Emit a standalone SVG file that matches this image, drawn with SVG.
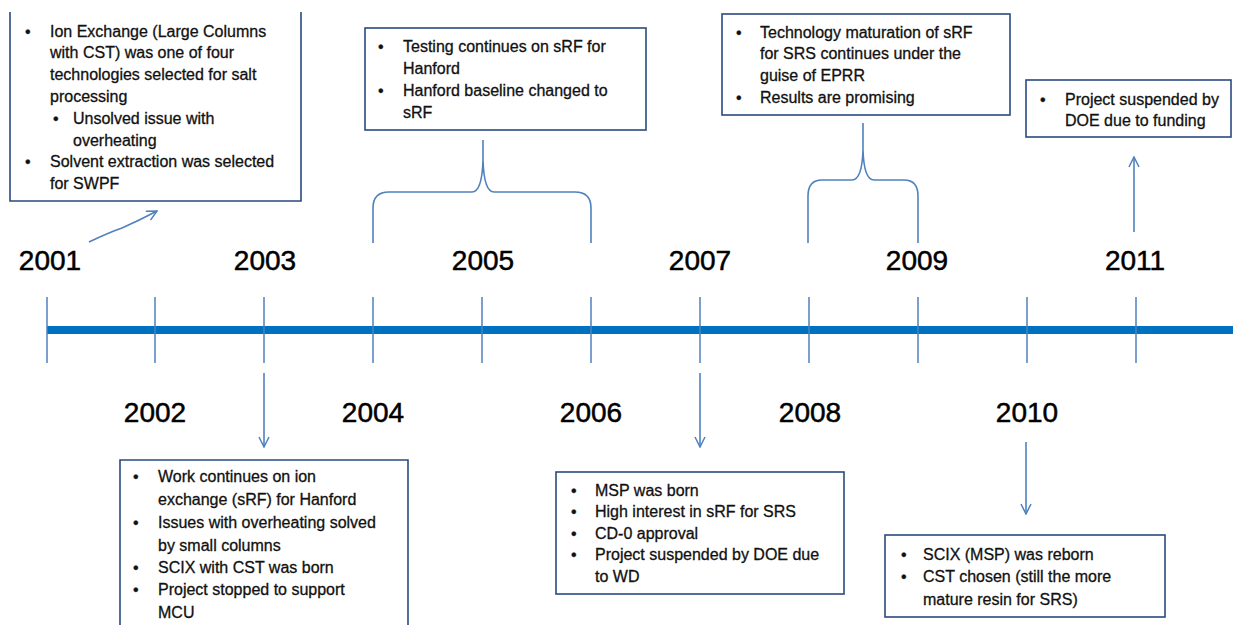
<svg xmlns="http://www.w3.org/2000/svg" width="1233" height="625" viewBox="0 0 1233 625">
<defs>
<marker id="ah" viewBox="0 0 12 12" refX="11" refY="6" markerWidth="12" markerHeight="12" markerUnits="userSpaceOnUse" orient="auto">
<path d="M1,1 L11,6 L1,11" fill="none" stroke="#4F81BD" stroke-width="1.5"/>
</marker>
</defs>
<style>
.box{fill:#fff;stroke:#2A4A80;stroke-width:1.6}
.t{font-family:"Liberation Sans",Arial,sans-serif;font-size:16px;fill:#111;stroke:#111;stroke-width:0.3}
.yr{font-family:"Liberation Sans",Arial,sans-serif;font-size:28px;fill:#000;stroke:#000;stroke-width:0.5;text-anchor:middle}
.tick{stroke:#4F81BD;stroke-width:1.5}
.con{fill:none;stroke:#4F81BD;stroke-width:1.6}
</style>
<rect width="1233" height="625" fill="#fff"/>

<g id="timeline">
<line x1="47" y1="330" x2="1233" y2="330" stroke="#0070C0" stroke-width="8"/>
<line class="tick" x1="47" y1="297" x2="47" y2="363"/>
<line class="tick" x1="155" y1="297" x2="155" y2="363"/>
<line class="tick" x1="264" y1="297" x2="264" y2="363"/>
<line class="tick" x1="373" y1="297" x2="373" y2="363"/>
<line class="tick" x1="482" y1="297" x2="482" y2="363"/>
<line class="tick" x1="591" y1="297" x2="591" y2="363"/>
<line class="tick" x1="700" y1="297" x2="700" y2="363"/>
<line class="tick" x1="809" y1="297" x2="809" y2="363"/>
<line class="tick" x1="918" y1="297" x2="918" y2="363"/>
<line class="tick" x1="1027" y1="297" x2="1027" y2="363"/>
<line class="tick" x1="1136" y1="297" x2="1136" y2="363"/>
</g>

<g id="years">
<text class="yr" x="50" y="270">2001</text>
<text class="yr" x="265" y="270">2003</text>
<text class="yr" x="483" y="270">2005</text>
<text class="yr" x="700" y="270">2007</text>
<text class="yr" x="917" y="270">2009</text>
<text class="yr" x="1135" y="270">2011</text>
<text class="yr" x="155" y="422">2002</text>
<text class="yr" x="373" y="422">2004</text>
<text class="yr" x="591" y="422">2006</text>
<text class="yr" x="810" y="422">2008</text>
<text class="yr" x="1027" y="422">2010</text>
</g>

<g id="connectors">
<path class="con" d="M89,242 Q110,232 122,228 Q140,220 157,211" marker-end="url(#ah)"/>
<path class="con" d="M373,243 V208 Q373,192 389,192 H472 Q482,192 483,160 V140 M483,160 Q484,192 494,192 H575 Q591,192 591,208 V243"/>
<path class="con" d="M808,243 V196 Q808,180 822,180 H852 Q862,180 863,150 V123 M863,150 Q864,180 874,180 H904 Q918,180 918,196 V243"/>
<line class="con" x1="1134" y1="232" x2="1134" y2="157" marker-end="url(#ah)"/>
<line class="con" x1="264" y1="373" x2="264" y2="447" marker-end="url(#ah)"/>
<line class="con" x1="700" y1="373" x2="700" y2="447" marker-end="url(#ah)"/>
<line class="con" x1="1026" y1="442" x2="1026" y2="514" marker-end="url(#ah)"/>
</g>

<g id="box2001">
<path class="box" d="M10,12 V201 H301 V12"/>
<text class="t" x="25" y="37">•</text><text class="t" x="50" y="37">Ion Exchange (Large Columns</text>
<text class="t" x="50" y="58">with CST) was one of four</text>
<text class="t" x="50" y="80">technologies selected for salt</text>
<text class="t" x="50" y="102">processing</text>
<text class="t" x="53" y="124">•</text><text class="t" x="73" y="124">Unsolved issue with</text>
<text class="t" x="73" y="146">overheating</text>
<text class="t" x="25" y="167">•</text><text class="t" x="50" y="167">Solvent extraction was selected</text>
<text class="t" x="50" y="189">for SWPF</text>
</g>

<g id="box2005">
<rect class="box" x="365" y="28" width="281" height="102"/>
<text class="t" x="378" y="52">•</text><text class="t" x="403" y="52">Testing continues on sRF for</text>
<text class="t" x="403" y="74">Hanford</text>
<text class="t" x="378" y="96">•</text><text class="t" x="403" y="96">Hanford baseline changed to</text>
<text class="t" x="403" y="118">sRF</text>
</g>

<g id="box2009">
<rect class="box" x="722" y="14" width="288" height="101"/>
<text class="t" x="736" y="38">•</text><text class="t" x="760" y="38">Technology maturation of sRF</text>
<text class="t" x="760" y="59">for SRS continues under the</text>
<text class="t" x="760" y="81">guise of EPRR</text>
<text class="t" x="736" y="103">•</text><text class="t" x="760" y="103">Results are promising</text>
</g>

<g id="box2011">
<rect class="box" x="1026" y="80" width="205" height="57"/>
<text class="t" x="1040" y="105">•</text><text class="t" x="1065" y="105">Project suspended by</text>
<text class="t" x="1065" y="126">DOE due to funding</text>
</g>

<g id="box2003">
<path class="box" d="M120,630 V460 H408 V630"/>
<text class="t" x="133" y="482">•</text><text class="t" x="158" y="482">Work continues on ion</text>
<text class="t" x="158" y="505">exchange (sRF) for Hanford</text>
<text class="t" x="133" y="528">•</text><text class="t" x="158" y="528">Issues with overheating solved</text>
<text class="t" x="158" y="551">by small columns</text>
<text class="t" x="133" y="573">•</text><text class="t" x="158" y="573">SCIX with CST was born</text>
<text class="t" x="133" y="595">•</text><text class="t" x="158" y="595">Project stopped to support</text>
<text class="t" x="158" y="618">MCU</text>
</g>

<g id="box2007">
<rect class="box" x="556" y="472" width="288" height="122"/>
<text class="t" x="571" y="496">•</text><text class="t" x="595" y="496">MSP was born</text>
<text class="t" x="571" y="517">•</text><text class="t" x="595" y="517">High interest in sRF for SRS</text>
<text class="t" x="571" y="539">•</text><text class="t" x="595" y="539">CD-0 approval</text>
<text class="t" x="571" y="560">•</text><text class="t" x="595" y="560">Project suspended by DOE due</text>
<text class="t" x="595" y="582">to WD</text>
</g>

<g id="box2010">
<rect class="box" x="885" y="535" width="280" height="82"/>
<text class="t" x="901" y="560">•</text><text class="t" x="923" y="560">SCIX (MSP) was reborn</text>
<text class="t" x="901" y="582">•</text><text class="t" x="923" y="582">CST chosen (still the more</text>
<text class="t" x="923" y="605">mature resin for SRS)</text>
</g>
</svg>
